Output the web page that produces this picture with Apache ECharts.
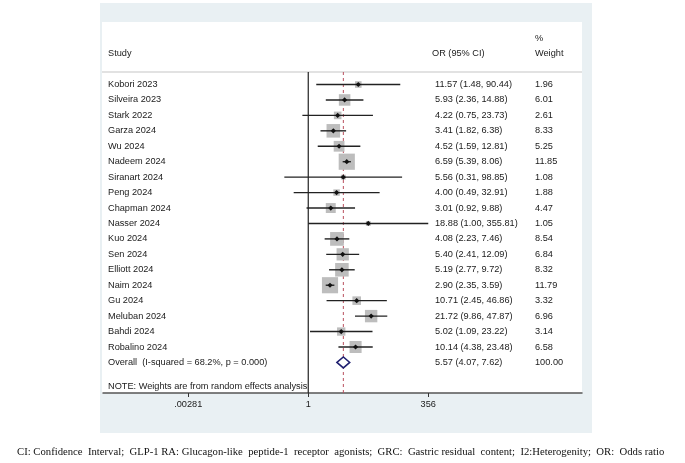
<!DOCTYPE html>
<html>
<head>
    <meta charset="utf-8">
    <title>Forest plot</title>
    <script src="https://cdn.jsdelivr.net/npm/echarts@6/dist/echarts.min.js"></script>
    <style>
        html, body { margin: 0; padding: 0; background: #fff; }
        #chart1 { width: 685px; height: 463px; }
    </style>
</head>
<body>
<div id="chart1"></div>
<script>
    // study data
    var studies = ['Kobori 2023', 'Silveira 2023', 'Stark 2022', 'Garza 2024', 'Wu 2024', 'Nadeem 2024',
        'Siranart 2024', 'Peng 2024', 'Chapman 2024', 'Nasser 2024', 'Kuo 2024', 'Sen 2024',
        'Elliott 2024', 'Naim 2024', 'Gu 2024', 'Meluban 2024', 'Bahdi 2024', 'Robalino 2024'];
    var orVals = [11.57, 5.93, 4.22, 3.41, 4.52, 6.59, 5.56, 4.00, 3.01, 18.88, 4.08, 5.40, 5.19, 2.90, 10.71, 21.72, 5.02, 10.14];
    var loVals = [1.48, 2.36, 0.75, 1.82, 1.59, 5.39, 0.31, 0.49, 0.92, 1.00, 2.23, 2.41, 2.77, 2.35, 2.45, 9.86, 1.09, 4.38];
    var hiVals = [90.44, 14.88, 23.73, 6.38, 12.81, 8.06, 98.85, 32.91, 9.88, 355.81, 7.46, 12.09, 9.72, 3.59, 46.86, 47.87, 23.22, 23.48];
    var weights = [1.96, 6.01, 2.61, 8.33, 5.25, 11.85, 1.08, 1.88, 4.47, 1.05, 8.54, 6.84, 8.32, 11.79, 3.32, 6.96, 3.14, 6.58];

    var overallLabel = 'Overall  (I-squared = 68.2%, p = 0.000)';
    var overall = [5.57, 4.07, 7.62];
    var overallWeight = '100.00';
    var noteText = 'NOTE: Weights are from random effects analysis';

    var tickVals = [0.00281, 1, 356];
    var tickLabels = ['.00281', '1', '356'];

    var footText = 'CI: Confidence  Interval;  GLP-1 RA: Glucagon-like  peptide-1  receptor  agonists;  GRC:  Gastric residual  content;  I2:Heterogenity;  OR:  Odds ratio';

    var FONT = '9.2px "Liberation Sans", Arial, sans-serif';
    var TXT = '#1a1a1a';

    function lg(v) { return Math.log10(v); }
    function fmt(a, b, c) { return a.toFixed(2) + ' (' + b.toFixed(2) + ', ' + c.toFixed(2) + ')'; }

    var rows = studies.map(function (s, i) {
        return [i, lg(orVals[i]), lg(loVals[i]), lg(hiVals[i]), weights[i]];
    });
    var tickPos = tickVals.map(lg);

    function txt(x, y, s) {
        return {type: 'text', style: {text: s, x: x, y: y, fill: TXT, font: FONT, verticalAlign: 'middle', align: 'left'}};
    }

    var myChart1 = echarts.init(document.getElementById('chart1'));
    myChart1.setOption({
        backgroundColor: '#fff',
        animation: false,
        grid: {left: 103, right: 103, top: 72, bottom: 70, containLabel: false},
        xAxis: {
            type: 'value',
            min: -4.364,
            max: 5.82,
            splitLine: {show: false},
            axisLine: {show: true, onZero: false, lineStyle: {color: '#555', width: 1.5}},
            axisTick: {show: true, length: 4, customValues: tickPos, lineStyle: {color: '#333'}},
            axisLabel: {
                customValues: tickPos,
                color: TXT,
                fontSize: 9.2,
                fontFamily: '"Liberation Sans", Arial, sans-serif',
                margin: 7,
                formatter: function (v) {
                    var best = 0;
                    for (var i = 0; i < tickPos.length; i++) {
                        if (Math.abs(tickPos[i] - v) < Math.abs(tickPos[best] - v)) best = i;
                    }
                    return tickLabels[best];
                }
            }
        },
        yAxis: {type: 'value', inverse: true, min: -0.81, max: 19.98, show: false},
        graphic: [
            {type: 'rect', z: -10, shape: {x: 100, y: 3, width: 492, height: 430}, style: {fill: '#e9f0f3'}},
            {type: 'rect', z: -9, shape: {x: 102, y: 22, width: 480, height: 371}, style: {fill: '#fff'}},
            {type: 'line', z: -8, shape: {x1: 102, y1: 72, x2: 582, y2: 72}, style: {stroke: '#d9d9d9', lineWidth: 1.5}},
            {type: 'text', style: {text: 'Study', x: 108, y: 53, fill: TXT, font: FONT, verticalAlign: 'middle'}},
            {type: 'text', style: {text: 'OR (95% CI)', x: 432, y: 53, fill: TXT, font: FONT, verticalAlign: 'middle'}},
            {type: 'text', style: {text: '%', x: 535, y: 38, fill: TXT, font: FONT, verticalAlign: 'middle'}},
            {type: 'text', style: {text: 'Weight', x: 535, y: 53, fill: TXT, font: FONT, verticalAlign: 'middle'}},
            {type: 'text', style: {text: footText, x: 17, y: 452, fill: '#111', font: '10.7px "Liberation Serif", "Times New Roman", serif', verticalAlign: 'middle'}}
        ],
        series: [
            {
                // reference lines: null line at 1 and dashed line at overall estimate
                type: 'custom',
                z: 1,
                silent: true,
                data: [[0, 0], [lg(overall[0]), 1]],
                renderItem: function (params, api) {
                    var top = api.coord([api.value(0), -0.81]);
                    var bot = api.coord([api.value(0), 19.98]);
                    var dashed = api.value(1) === 1;
                    return {
                        type: 'line',
                        shape: {x1: top[0], y1: top[1], x2: bot[0], y2: bot[1]},
                        style: dashed ? {stroke: '#b9505e', lineWidth: 1, lineDash: [3, 3]}
                            : {stroke: '#222', lineWidth: 1.2}
                    };
                }
            },
            {
                type: 'custom',
                z: 3,
                silent: true,
                data: rows,
                renderItem: function (params, api) {
                    var i = api.value(0);
                    var c = api.coord([api.value(1), i]);
                    var lo = api.coord([api.value(2), i]);
                    var hi = api.coord([api.value(3), i]);
                    var side = 4.7 * Math.sqrt(api.value(4));
                    return {
                        type: 'group',
                        children: [
                            {type: 'rect', shape: {x: c[0] - side / 2, y: c[1] - side / 2, width: side, height: side},
                                style: {fill: '#bdbdbd'}},
                            {type: 'line', shape: {x1: lo[0], y1: c[1], x2: hi[0], y2: c[1]},
                                style: {stroke: '#222', lineWidth: 1.4}},
                            {type: 'polygon', shape: {points: [[c[0] - 2.6, c[1]], [c[0], c[1] - 2.6], [c[0] + 2.6, c[1]], [c[0], c[1] + 2.6]]},
                                style: {fill: '#111'}},
                            txt(108, c[1], studies[i]),
                            txt(435, c[1], fmt(orVals[i], loVals[i], hiVals[i])),
                            txt(535, c[1], weights[i].toFixed(2))
                        ]
                    };
                }
            },
            {
                type: 'custom',
                z: 3,
                silent: true,
                data: [[18, lg(overall[0]), lg(overall[1]), lg(overall[2])]],
                renderItem: function (params, api) {
                    var i = api.value(0);
                    var c = api.coord([api.value(1), i]);
                    var lo = api.coord([api.value(2), i]);
                    var hi = api.coord([api.value(3), i]);
                    var note = api.coord([0, 19.53]);
                    return {
                        type: 'group',
                        children: [
                            {type: 'polygon', shape: {points: [[lo[0], c[1]], [c[0], c[1] - 5.5], [hi[0], c[1]], [c[0], c[1] + 5.5]]},
                                style: {fill: '#fff', stroke: '#1f1f70', lineWidth: 1.5}},
                            txt(108, c[1], overallLabel),
                            txt(435, c[1], fmt(overall[0], overall[1], overall[2])),
                            txt(535, c[1], overallWeight),
                            txt(108, note[1], noteText)
                        ]
                    };
                }
            }
        ]
    });
</script>
</body>
</html>
